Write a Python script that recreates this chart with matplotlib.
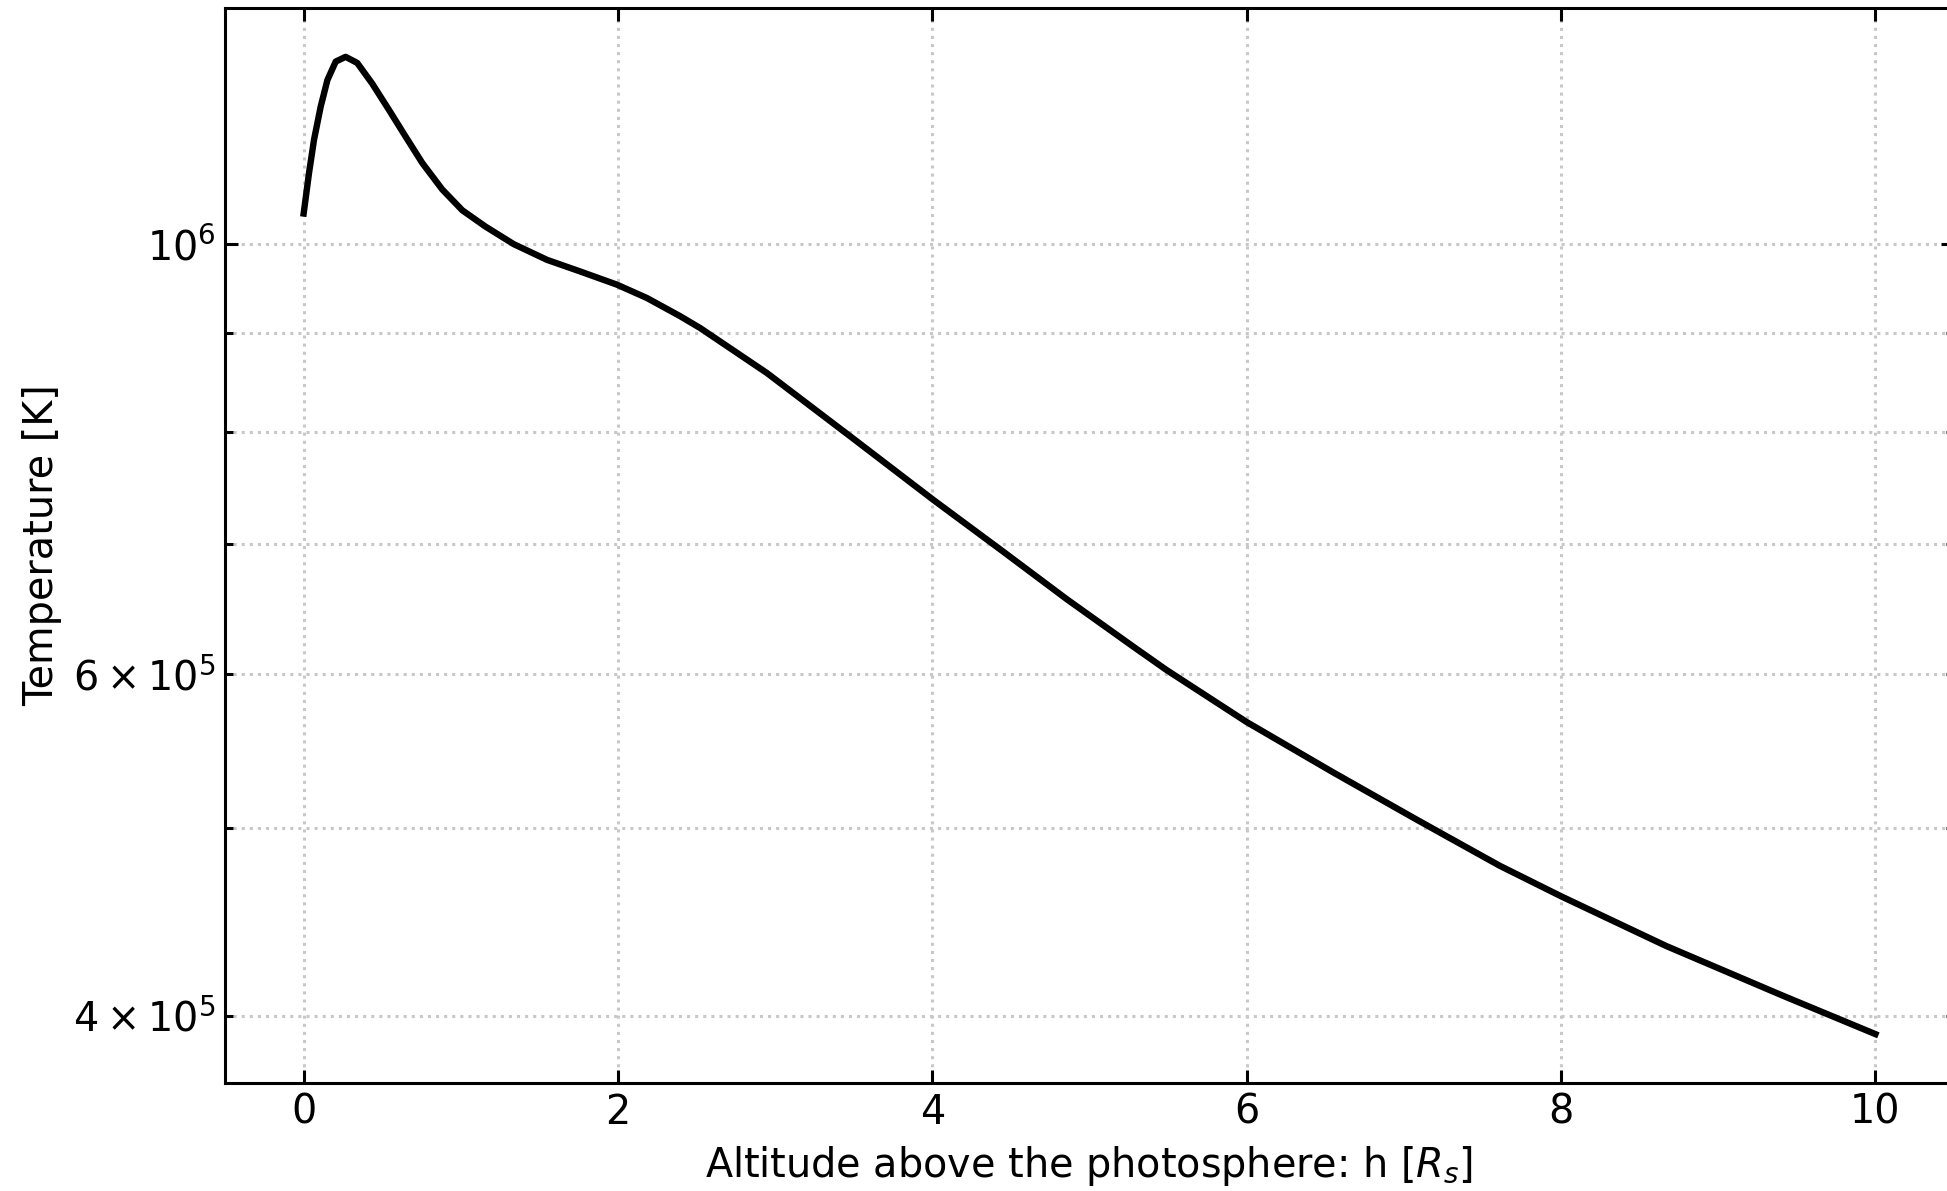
import matplotlib
matplotlib.use("Agg")
import matplotlib.pyplot as plt

# altitude [R_s] and temperature [K]
altitude = [0.0, 0.034, 0.066, 0.108, 0.151, 0.204, 0.267, 0.341, 0.436, 0.542,
            0.649, 0.755, 0.882, 1.009, 1.157, 1.336, 1.548, 1.76, 1.993, 2.184,
            2.395, 2.524, 2.948, 3.477, 4.007, 4.431, 4.855, 5.279, 5.491, 5.999,
            6.551, 7.08, 7.292, 7.61, 8.0, 8.668, 9.41, 10.0]
temperature = [1.037e6, 1.088e6, 1.132e6, 1.177e6, 1.215e6, 1.242e6, 1.249e6,
               1.240e6, 1.210e6, 1.173e6, 1.136e6, 1.101e6, 1.067e6, 1.041e6,
               1.021e6, 1.000e6, 0.9815e6, 0.968e6, 0.953e6, 0.938e6, 0.918e6,
               0.905e6, 0.858e6, 0.796e6, 0.738e6, 0.696e6, 0.656e6, 0.620e6,
               0.603e6, 0.567e6, 0.534e6, 0.505e6, 0.494e6, 0.478e6, 0.461e6,
               0.4346e6, 0.4097e6, 0.3914e6]

fig = plt.figure(figsize=(1947 / 200, 1191 / 200), dpi=200)
ax = fig.add_axes([0.1156, 0.0907, 0.888, 0.9026])

ax.plot(altitude, temperature, color='black', linewidth=2.3)
ax.set_yscale('log')

ax.set_xlabel("Altitude above the photosphere: h [$R_s$]", fontsize=14.3)
ax.set_ylabel("Temperature [K]", fontsize=14.3, labelpad=4)

ax.tick_params(which='both', direction='in', top=True, right=True,
               labelsize=14.3, width=1.1)
ax.tick_params(which='major', length=4.7)
ax.tick_params(which='minor', length=2.9)
for s in ax.spines.values():
    s.set_linewidth(1.1)

ax.grid(True, which='major', linestyle=':', color='#c8c8c8', linewidth=1.1)
ax.grid(True, which='minor', axis='y', linestyle=':', color='#c8c8c8', linewidth=1.1)

fig.savefig("out.png", dpi=200)
